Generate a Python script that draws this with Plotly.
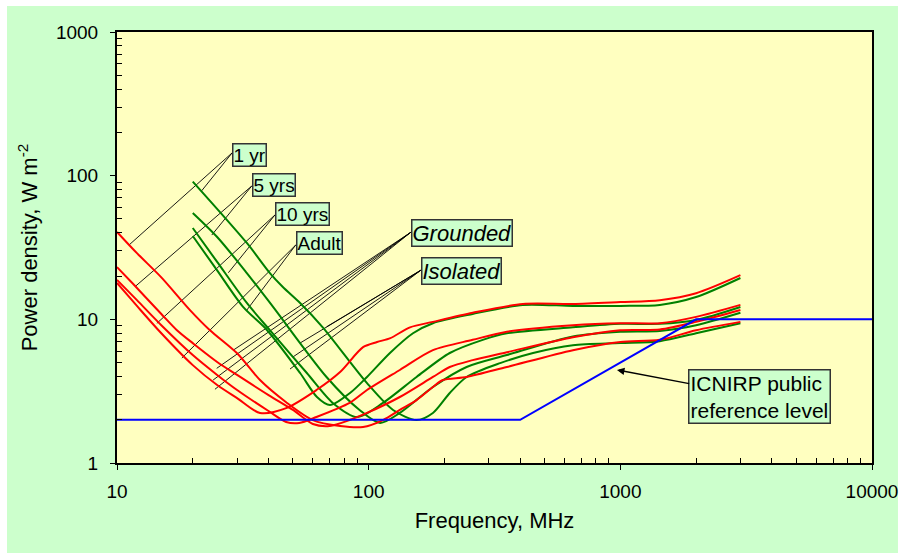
import math
import plotly.graph_objects as go

# ---------------- data ----------------
# ICNIRP public reference level
icnirp_f = [10, 400, 2000, 10000]
icnirp_v = [2, 2, 10, 10]

# Grounded (red) curves
red_1yr_f = [10, 12, 15, 19.5, 23.4, 30, 37, 47, 60, 77, 95, 114, 133, 155, 180, 197, 245, 354, 648, 1000, 1435, 2000, 3000]
red_1yr_v = [40.6, 28.9, 19.6, 11.6, 8.4, 5.8, 3.78, 2.65, 1.99, 1.81, 1.78, 1.99, 2.34, 2.74, 3.38, 3.78, 3.97, 4.66, 6.1, 6.95, 7.2, 8.4, 9.6]

red_5yr_f = [10, 11.6, 15, 17.3, 20, 25, 30, 40, 50, 60, 70, 84, 98.5, 133, 180, 210, 259, 354, 648, 1000, 1435, 2000, 3000]
red_5yr_v = [23.1, 17.6, 10.9, 8.4, 6.83, 5.05, 4.1, 2.97, 2.34, 1.87, 1.81, 1.99, 2.23, 2.88, 3.97, 4.66, 5.2, 5.9, 7.5, 8.4, 8.5, 9.6, 11.6]

red_10yr_f = [10, 12, 15, 20, 25, 30, 40, 47, 53, 62, 84, 98.5, 133, 180, 259, 354, 648, 1000, 1435, 2000, 3000]
red_10yr_v = [18.8, 13.6, 9.1, 5.64, 4.1, 3.22, 2.3, 1.93, 1.9, 2.09, 2.62, 3.22, 4.44, 6.1, 7.2, 8.2, 9.1, 9.4, 9.4, 10.4, 12.6]

red_adult_f = [10, 12, 15, 20, 25, 30, 37, 47, 62, 77, 95, 108, 122, 146, 180, 259, 410, 648, 1000, 1435, 2000, 3000]
red_adult_v = [17.9, 12.4, 8.0, 4.8, 3.49, 2.83, 2.23, 2.41, 3.22, 4.3, 6.4, 6.95, 7.4, 8.8, 9.6, 11.1, 12.8, 12.8, 13.2, 13.6, 15.2, 20.3]

# Isolated (green) curves
grn_1yr_f = [20, 32.8, 40.5, 45.6, 53.4, 65.7, 98.5, 125, 155, 180, 210, 245, 333, 450, 648, 1000, 1435, 2000, 3000]
grn_1yr_v = [91, 34, 21, 16.8, 13, 8.8, 3.6, 2.34, 1.99, 2.23, 3.07, 3.97, 4.96, 5.83, 6.6, 6.83, 7.05, 8.0, 9.4]

grn_5yr_f = [20, 25, 32.8, 41.7, 68, 92, 111, 133, 180, 245, 354, 648, 1000, 1435, 2000, 3000]
grn_5yr_v = [55, 37.4, 21, 12.2, 3.97, 2.34, 1.9, 2.23, 3.38, 4.66, 5.64, 7.6, 8.2, 8.3, 9.1, 11.1]

grn_10yr_f = [20, 25, 32.8, 40.5, 56.8, 72, 90, 114, 155, 210, 284, 354, 648, 1000, 1435, 2000, 3000]
grn_10yr_v = [43.2, 25.1, 13.0, 8.4, 4.23, 2.62, 2.09, 2.62, 3.97, 5.83, 7.2, 8.0, 8.8, 9.3, 9.3, 9.9, 12.2]

grn_adult_f = [20, 25, 31.7, 39.5, 53.4, 62.3, 70.2, 84.3, 98.5, 121.5, 150, 180, 259, 410, 648, 1000, 1435, 2000, 3000]
grn_adult_v = [38, 21.9, 12.2, 8.4, 4.23, 2.88, 2.53, 3.07, 3.97, 5.83, 8.0, 9.4, 10.9, 12.6, 12.4, 12.4, 12.6, 14.3, 19.4]

# Label texts and leader lines (start at the label box, end on the curves)
label_texts = ["1 yr", "5 yrs", "10 yrs", "Adult", "<i>Grounded</i>", "<i>Isolated</i>"]
label_sizes = [19, 19, 19, 19, 22, 22]
label_x = [0.1523, 0.1788, 0.2093, 0.2371, 0.3894, 0.4026]   # paper coords (left)
label_y = [0.7425, 0.6729, 0.6056, 0.5383, 0.5661, 0.4780]   # paper coords (top)
leader_start_f = [28.7, 34.3, 42.4, 51.3, 146.9, 161.4]
leader_start_v = [144.3, 84.7, 53.2, 32.9, 40.3, 22.0]
leader_end_f = [[11.16, 21.7], [11.8, 23.8], [14.4, 27.7], [18.1, 32.8],
                [24.9, 24.1, 24.5, 29.0], [48.7, 50.0, 53.4, 68.1]]
leader_end_v = [[32.9, 78.5], [16.9, 38.6], [9.38, 21.1], [5.38, 11.6],
                [4.56, 3.78, 3.26, 6.11], [4.51, 5.47, 6.84, 8.88]]

icnirp_label = "ICNIRP public<br>reference level"
icnirp_arrow_f = 969.5
icnirp_arrow_v = 4.44

x_ticks = [10, 100, 1000, 10000]
y_ticks = [1, 10, 100, 1000]

# ---------------- figure ----------------
FONT = "Arial, 'Liberation Sans', sans-serif"
RED = "#ff0000"
GREEN = "#008000"
BLUE = "#0000ff"

x_minor = [m * 10 ** k for k in range(1, 4) for m in range(2, 10)]
y_minor = [m * 10 ** k for k in range(0, 3) for m in range(2, 10)]

fig = go.Figure()

# leader lines
lx, ly = [], []
for sf, sv, ef, ev in zip(leader_start_f, leader_start_v, leader_end_f, leader_end_v):
    for f, v in zip(ef, ev):
        lx += [sf, f, None]
        ly += [sv, v, None]
fig.add_trace(go.Scatter(x=lx, y=ly, mode="lines", line=dict(color="black", width=0.9),
                         hoverinfo="skip", showlegend=False))

for f, v in [(grn_1yr_f, grn_1yr_v), (grn_5yr_f, grn_5yr_v), (grn_10yr_f, grn_10yr_v), (grn_adult_f, grn_adult_v)]:
    fig.add_trace(go.Scatter(x=f, y=v, mode="lines", line=dict(color=GREEN, width=2, shape="spline", smoothing=0.8),
                             showlegend=False))
for f, v in [(red_1yr_f, red_1yr_v), (red_5yr_f, red_5yr_v), (red_10yr_f, red_10yr_v), (red_adult_f, red_adult_v)]:
    fig.add_trace(go.Scatter(x=f, y=v, mode="lines", line=dict(color=RED, width=2, shape="spline", smoothing=0.8),
                             showlegend=False))

fig.add_trace(go.Scatter(x=icnirp_f, y=icnirp_v, mode="lines", line=dict(color=BLUE, width=2),
                         showlegend=False))

annotations = []
for t, s, x, y in zip(label_texts, label_sizes, label_x, label_y):
    annotations.append(dict(text=t, x=x, y=y, xref="paper", yref="paper", xanchor="left", yanchor="top",
                            showarrow=False, font=dict(family=FONT, size=s, color="black"),
                            bgcolor="#ccffcc", bordercolor="#333333", borderwidth=1.5, borderpad=0))
annotations.append(dict(text=icnirp_label, x=math.log10(icnirp_arrow_f), y=math.log10(icnirp_arrow_v),
                        xref="x", yref="y", ax=143, ay=27, axref="pixel", ayref="pixel",
                        showarrow=True, arrowhead=2, arrowsize=1, arrowwidth=1.5, arrowcolor="black",
                        align="left", font=dict(family=FONT, size=21, color="black"),
                        bgcolor="#ccffcc", bordercolor="#333333", borderwidth=1.5, borderpad=1))

axis_common = dict(type="log", showgrid=False, zeroline=False, showline=True, linecolor="black",
                   linewidth=2, mirror=True, ticks="outside", ticklen=5, tickwidth=1, tickcolor="black",
                   automargin=False,
                   tickfont=dict(family=FONT, size=19, color="black"))

fig.update_layout(
    width=902, height=553,
    margin=dict(l=117, r=30, t=32, b=90),
    paper_bgcolor="white", plot_bgcolor="#ffffc0",
    font=dict(family=FONT, color="black"),
    shapes=[
        dict(type="rect", xref="paper", yref="paper", x0=-0.1457, x1=1.0344, y0=-0.2088, y1=1.0603,
             fillcolor="#ccffcc", line=dict(width=0), layer="below"),
        dict(type="rect", xref="paper", yref="paper", x0=0, x1=1, y0=0, y1=1,
             fillcolor="#ffffc0", line=dict(width=0), layer="below"),
    ],
    annotations=annotations,
    xaxis=dict(axis_common, range=[1, 4], tickvals=x_ticks, ticktext=[str(t) for t in x_ticks],
               ticklabelstandoff=5,
               minor=dict(tickmode="array", tickvals=x_minor, ticks="inside", ticklen=5, tickwidth=1,
                          tickcolor="black", showgrid=False),
               title=dict(text="Frequency, MHz", font=dict(family=FONT, size=22, color="black"), standoff=12)),
    yaxis=dict(axis_common, range=[0, 3], tickvals=y_ticks, ticktext=[str(t) for t in y_ticks],
               ticklabelstandoff=8,
               minor=dict(tickmode="array", tickvals=y_minor, ticks="inside", ticklen=5, tickwidth=1,
                          tickcolor="black", showgrid=False),
               title=dict(text="Power density, W m<sup>-2</sup>", font=dict(family=FONT, size=22, color="black"),
                          standoff=12)),
)

fig.write_html("out.html")
